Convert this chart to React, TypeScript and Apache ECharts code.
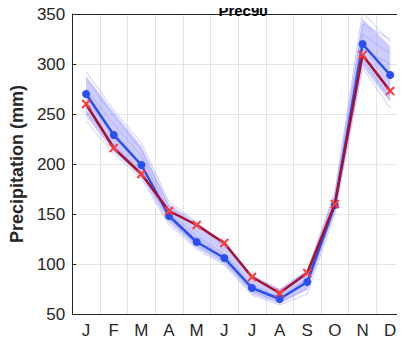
import React, { useEffect, useRef } from "react";
import * as echarts from "echarts";

// Months along the x axis
const months = ["J", "F", "M", "A", "M", "J", "J", "A", "S", "O", "N", "D"];

// Ensemble mean (blue, dots) and observed (red, crosses), in mm
const ensembleMean = [270, 229, 199, 148, 122, 106, 76, 65, 82, 159, 320, 289];
const observed = [260, 216, 190, 153, 139, 121, 87, 71, 91, 160, 309, 273];

// Envelope of the ensemble members
const bandLow = [248, 212, 187, 141, 116, 100, 70, 60, 74, 152, 298, 262];
const bandHigh = [288, 252, 218, 160, 141, 122, 89, 75, 94, 170, 345, 318];

// Individual ensemble members that stick out of the envelope
const memberA = [292, 254, 221, 162, 142, 120, 88, 74, 93, 172, 352, 322];
const memberB = [285, 248, 214, 157, 138, 118, 86, 72, 90, 168, 340, 325];
const memberC = [243, 210, 186, 139, 115, 99, 69, 59, 70, 150, 296, 256];
const memberD = [252, 220, 192, 145, 119, 103, 73, 62, 76, 155, 305, 265];
const memberE = [275, 240, 208, 152, 128, 110, 79, 67, 85, 162, 330, 310];
const memberF = [262, 232, 200, 150, 125, 108, 77, 66, 83, 160, 315, 300];

const yTicks = { min: 50, max: 350, interval: 50 };

const FONT = "'Liberation Sans', Arial, Helvetica, sans-serif";
const TEXT = "#262626";
const ENS = "rgba(150,150,255,0.5)";

export default function App() {
  const ref = useRef<HTMLDivElement>(null);

  useEffect(() => {
    if (!ref.current) return;
    const chart = echarts.init(ref.current, undefined, { renderer: "svg" });

    const bandDiff = bandHigh.map((v, i) => v - bandLow[i]);
    const members = [memberA, memberB, memberC, memberD, memberE, memberF];

    const memberSeries = members.map((m, k) => ({
      name: "member" + k,
      type: "line",
      data: m,
      symbol: "none",
      lineStyle: { color: ENS, width: 1 },
      z: 1,
    }));

    chart.setOption({
      animation: false,
      title: {
        text: "Prec90",
        left: 238,
        textAlign: "center",
        top: -2,
        textStyle: { fontFamily: FONT, fontSize: 15, lineHeight: 15, fontWeight: "bold", color: "#000" },
      },
      grid: { left: 72, top: 14, width: 332, height: 300, containLabel: false },
      xAxis: [
        {
          type: "category",
          data: months,
          boundaryGap: true,
          axisLine: { onZero: false, lineStyle: { color: TEXT, width: 1 } },
          axisTick: { inside: true, alignWithLabel: true, length: 4, lineStyle: { color: TEXT } },
          axisLabel: { fontFamily: FONT, fontSize: 17, color: TEXT, margin: 8, interval: 0 },
          splitLine: { show: false },
        },
        {
          type: "category",
          data: months,
          position: "top",
          boundaryGap: true,
          axisLine: { onZero: false, lineStyle: { color: TEXT, width: 1 } },
          axisTick: { inside: true, alignWithLabel: true, length: 4, lineStyle: { color: TEXT } },
          axisLabel: { show: false },
          splitLine: { show: false },
        },
        {
          // gridlines through each month
          type: "value",
          min: -0.5,
          max: 11.5,
          interval: 1,
          position: "bottom",
          axisLine: { show: false, onZero: false },
          axisTick: { show: false },
          axisLabel: { show: false },
          splitLine: { show: true, lineStyle: { color: "#e3e3e3", width: 1 } },
        },
      ],
      yAxis: [
        {
          type: "value",
          position: "left",
          min: yTicks.min,
          max: yTicks.max,
          interval: yTicks.interval,
          name: "Precipitation (mm)",
          nameLocation: "middle",
          nameGap: 42,
          nameTextStyle: { fontFamily: FONT, fontSize: 18, fontWeight: "bold", color: TEXT },
          axisLine: { show: true, onZero: false, lineStyle: { color: TEXT, width: 1 } },
          axisTick: { show: true, inside: true, length: 4, lineStyle: { color: TEXT } },
          axisLabel: { fontFamily: FONT, fontSize: 17, color: TEXT, margin: 7 },
          splitLine: { show: true, lineStyle: { color: "#e3e3e3", width: 1 } },
        },
        {
          type: "value",
          position: "right",
          min: yTicks.min,
          max: yTicks.max,
          interval: yTicks.interval,
          axisLine: { show: true, onZero: false, lineStyle: { color: TEXT, width: 1 } },
          axisTick: { show: true, inside: true, length: 4, lineStyle: { color: TEXT } },
          axisLabel: { show: false },
          splitLine: { show: false },
        },
      ],
      series: [
        {
          name: "bandBase",
          type: "line",
          data: bandLow,
          stack: "band",
          symbol: "none",
          lineStyle: { opacity: 0 },
          areaStyle: { opacity: 0 },
          z: 1,
        },
        {
          name: "band",
          type: "line",
          data: bandDiff,
          stack: "band",
          symbol: "none",
          lineStyle: { opacity: 0 },
          areaStyle: { color: "rgba(155,155,255,0.72)" },
          z: 1,
        },
        ...memberSeries,
        {
          name: "Ensemble mean",
          type: "line",
          data: ensembleMean,
          symbol: "circle",
          symbolSize: 8,
          lineStyle: { color: "#2a4ff0", width: 2.5 },
          itemStyle: { color: "#2a4ff0" },
          z: 3,
        },
        {
          name: "Observed",
          type: "line",
          data: observed,
          symbol: "path://M0,0L10,10M10,0L0,10",
          symbolSize: 8,
          lineStyle: { color: "#a8102c", width: 2.5 },
          itemStyle: { color: "none", borderColor: "#ff3b3b", borderWidth: 2 },
          z: 4,
        },
      ],
    });

    return () => chart.dispose();
  }, []);

  return <div ref={ref} style={{ width: 405, height: 344, margin: -8 }} />;
}
